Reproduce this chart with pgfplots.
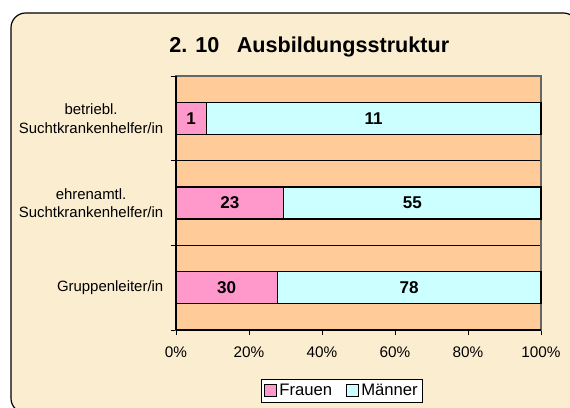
\documentclass[border=0pt]{standalone}
\usepackage{pgfplots}
\pgfplotsset{compat=1.18}
\usepackage{pgfplotstable}
\usepackage{fontspec}
\setmainfont{Liberation Sans}

\definecolor{paper}{HTML}{FAEDD0}
\definecolor{peach}{HTML}{FFCC99}
\definecolor{pinkbar}{HTML}{FF99CC}
\definecolor{cyanbar}{HTML}{CCFFFF}

% y: 0 = Gruppenleiter/in, 1 = ehrenamtl., 2 = betriebl.
% pct = share of the row, n = count
\pgfplotstableread{
y pct n
0 27.778 30
1 29.487 23
2 8.333 1
}\frauen
\pgfplotstableread{
y pct n
0 72.222 78
1 70.513 55
2 91.667 11
}\maenner

\begin{document}
\begin{tikzpicture}
\useasboundingbox (0pt,0pt) rectangle (427.5pt,305.25pt);
\fill[white] (0pt,0pt) rectangle (427.5pt,305.25pt);
\begin{scope}
\clip (0pt,0pt) rectangle (427.5pt,305.25pt);
\filldraw[fill=paper,draw=black,line width=0.9pt,rounded corners=11pt] (8.25pt,-4.5pt) rectangle (433.5pt,295.5pt);
\end{scope}
\node[font=\bfseries\fontsize{16.2}{19}\selectfont] at (232pt,270pt) {2. 10\hspace{0.8em}Ausbildungsstruktur};
\begin{axis}[
  at={(132pt,57.75pt)}, anchor=south west,
  scale only axis, width=273.75pt, height=190.5pt,
  xbar stacked, bar width=24pt,
  xmin=0, xmax=100, ymin=-0.5, ymax=2.5,
  axis background/.style={fill=peach},
  axis line style={draw=gray!80!black, line width=0.8pt},
  xtick={0,20,40,60,80,100},
  xticklabels={0\%,20\%,40\%,60\%,80\%,100\%},
  xtick pos=bottom, ytick pos=left,
  xtick style={draw=black, line width=0.6pt},
  tick align=outside, major tick length=4pt,
  ytick={0,1,2}, major y tick style={draw=none},
  yticklabels={Gruppenleiter/in, {ehrenamtl.\\Suchtkrankenhelfer/in}, {betriebl.\\Suchtkrankenhelfer/in}},
  yticklabel style={align=center, font=\fontsize{11.2}{14}\selectfont, xshift=-2pt},
  minor ytick={-0.5,0.5,1.5,2.5}, minor tick length=4pt,
  minor y tick style={draw=black, line width=0.6pt},
  ymajorgrids=false, yminorgrids=true,
  minor grid style={draw=black, line width=0.5pt},
  xticklabel style={font=\fontsize{11.5}{14}\selectfont, yshift=-5pt},
  /pgf/number format/assume math mode=true,
  point meta=explicit symbolic,
  nodes near coords,
  every node near coord/.append style={font=\bfseries\fontsize{12.8}{15}\selectfont, anchor=center},
  legend style={at={(0.455,-0.193)}, anchor=north, legend columns=2, fill=white, draw=black, line width=0.6pt,
    font=\fontsize{12.5}{15}\selectfont, inner sep=1.5pt,
    /tikz/every even column/.append style={column sep=8pt}},
  legend image code/.code={\draw[#1, line width=0.8pt] (0pt,-4.5pt) rectangle (9pt,4.5pt);},
  clip=false,
]
\addplot[fill=pinkbar, draw=black, line width=1pt] table[x=pct, y=y, meta=n] {\frauen};
\addlegendentry{Frauen}
\addplot[fill=cyanbar, draw=black, line width=1pt] table[x=pct, y=y, meta=n] {\maenner};
\addlegendentry{Männer}
\draw[black, line width=0.8pt] (rel axis cs:0,0) -- (rel axis cs:0,1);
\draw[black, line width=0.8pt] (rel axis cs:0,0) -- (rel axis cs:1,0);
\end{axis}
\end{tikzpicture}
\end{document}
